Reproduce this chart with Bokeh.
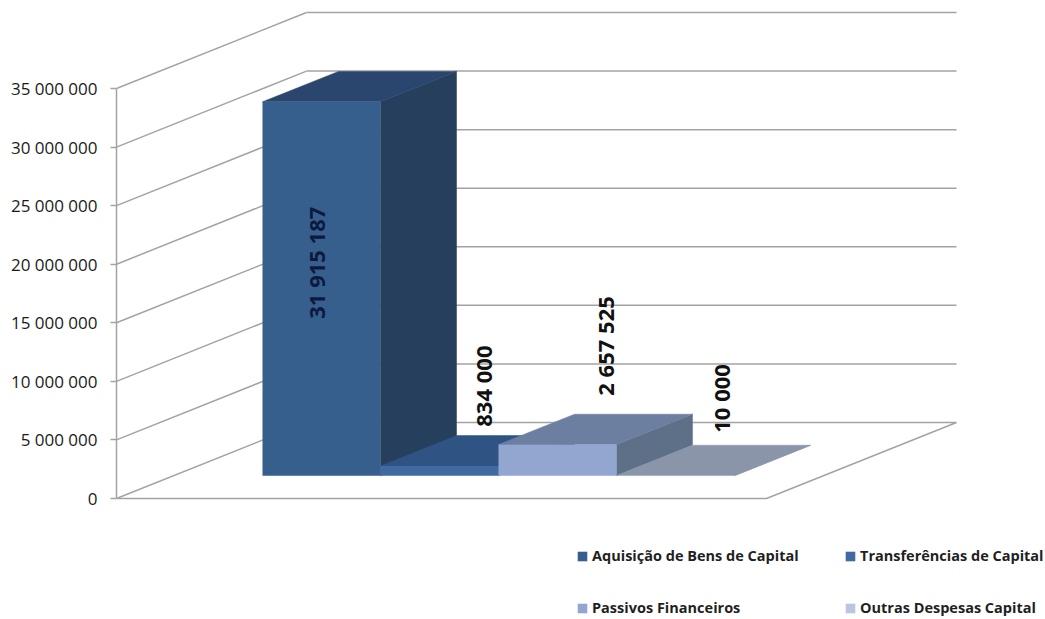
from bokeh.embed import file_html
from bokeh.resources import INLINE
from bokeh.models import ColumnDataSource, FixedTicker, Legend, LegendItem, Range1d
from bokeh.plotting import figure
from bokeh.core.properties import value
import math

# Series shown in the chart
categories = ["Aquisição de Bens de Capital", "Transferências de Capital",
              "Passivos Financeiros", "Outras Despesas Capital"]
amounts = [31915187, 834000, 2657525, 10000]
tick_values = [0, 5000000, 10000000, 15000000, 20000000, 25000000, 30000000, 35000000]

# Face colours per series
front_colors = ["#375f8e", "#3f6ba2", "#92a6d0", "#b9c6de"]
top_colors = ["#2a466e", "#2f5484", "#6c7fa1", "#8a95aa"]
side_colors = ["#263f5c", "#263f5c", "#5e7088", "#8a95aa"]

# Height of each value label's start above the bar base, and its sideways shift in pixels
label_heights = [13400000, 4180000, 6830000, 3670000]
label_shifts = [-6, 43, 47, 45]
label_colors = ["#0c1a3d", "#111111", "#111111", "#111111"]

# Oblique projection: one depth unit moves this far across and up
PX_PER_CAT = 118.0
PX_PER_VAL = 410.0 / 35000000
DEPTH_X = 190.0 / PX_PER_CAT
DEPTH_Y = 76.0 / PX_PER_VAL
BAR_NEAR, BAR_FAR = 0.30, 0.70
FLOOR_PAD = 89.0 / PX_PER_CAT
GRID = "#a3a3a3"
FONT = "Open Sans"


def fmt(v):
    return f"{v:,}".replace(",", " ")


def project(x, y, d):
    return x + d * DEPTH_X, y + d * DEPTH_Y


def face(points):
    xy = [project(*pt) for pt in points]
    return [q[0] for q in xy], [q[1] for q in xy]


x_left = -FLOOR_PAD
x_right = len(amounts) + FLOOR_PAD
frame_left = 116

p = figure(
    width=1045, height=619, output_backend="svg", toolbar_location=None,
    x_range=Range1d(x_left, x_left + (1045 - frame_left) / PX_PER_CAT),
    y_range=Range1d(-(619 - 498) / PX_PER_VAL, 498 / PX_PER_VAL),
    min_border_left=frame_left, min_border_right=0, min_border_top=0, min_border_bottom=0,
)
p.outline_line_color = None
p.grid.visible = False
p.xaxis.visible = False

# Value axis along the front of the side wall
yaxis = p.yaxis[0]
yaxis.ticker = FixedTicker(ticks=tick_values)
yaxis.major_label_overrides = {t: fmt(t) for t in tick_values}
yaxis.bounds = (0, tick_values[-1])
yaxis.axis_line_color = GRID
yaxis.axis_line_width = 1.5
yaxis.major_tick_line_color = GRID
yaxis.major_tick_line_width = 1.5
yaxis.major_tick_out = 6
yaxis.major_tick_in = 0
yaxis.minor_tick_line_color = None
yaxis.major_label_standoff = 13
yaxis.major_label_text_font = FONT
yaxis.major_label_text_font_size = "17px"
yaxis.major_label_text_color = "#1a1a1a"

# Slanted side-wall lines and horizontal back-wall lines
wall_xs, wall_ys = [], []
for t in tick_values:
    bx, by = project(x_left, t, 1)
    wall_xs.append([x_left, bx])
    wall_ys.append([t, by])
    if t > 0:
        wall_xs.append([bx, x_right + DEPTH_X])
        wall_ys.append([by, by])
p.multi_line(wall_xs, wall_ys, line_color=GRID, line_width=1.5)

# Floor outline: front edge, right edge and back edge
bx, by = project(x_left, 0, 1)
fx, fy = project(x_right, 0, 1)
p.line([x_left, x_right, fx, bx], [0, 0, fy, fy], line_color=GRID, line_width=1.5)

# Bars, left to right so each one overlaps the side of the previous bar
base = BAR_NEAR * DEPTH_Y
items = []
for i, (name, v) in enumerate(zip(categories, amounts)):
    x0, x1 = i, i + 1
    y0 = 0.0
    sx, sy = face([(x1, y0, BAR_NEAR), (x1, y0, BAR_FAR), (x1, v, BAR_FAR), (x1, v, BAR_NEAR)])
    p.patch(sx, sy, fill_color=side_colors[i], line_color=side_colors[i], line_width=0.5)
    tx, ty = face([(x0, v, BAR_NEAR), (x0, v, BAR_FAR), (x1, v, BAR_FAR), (x1, v, BAR_NEAR)])
    p.patch(tx, ty, fill_color=top_colors[i], line_color=top_colors[i], line_width=0.5)
    fx_, fy_ = face([(x0, y0, BAR_NEAR), (x1, y0, BAR_NEAR), (x1, v, BAR_NEAR), (x0, v, BAR_NEAR)])
    front = p.patch(fx_, fy_, fill_color=front_colors[i], line_color=None)
    items.append(LegendItem(label=name, renderers=[front]))

# Value labels, rotated to read upward
labels = ColumnDataSource(dict(
    x=[i + 0.5 + BAR_NEAR * DEPTH_X for i in range(len(amounts))],
    y=[base + h for h in label_heights],
    dx=label_shifts,
    text=[fmt(v) for v in amounts],
    color=label_colors,
))
p.text("x", "y", text="text", source=labels, x_offset="dx", angle=math.pi / 2,
       text_align="left", text_baseline="middle", text_color="color",
       text_font=value(FONT), text_font_size="22px", text_font_style="bold")

# Two legend columns: first and third series on the left, second and fourth on the right
for column, left in ((items[0::2], 576), (items[1::2], 844)):
    p.add_layout(Legend(
        items=column, location=(left - frame_left, 2),
        glyph_width=12, glyph_height=12, label_height=12,
        padding=0, margin=0, spacing=33, label_standoff=4, border_line_color=None,
        background_fill_alpha=0, label_text_font=FONT, label_text_font_size="14.5px",
        label_text_font_style="bold", label_text_color="#1f1f1f",
    ), "center")

open("out.html", "w").write(file_html(p, INLINE))
